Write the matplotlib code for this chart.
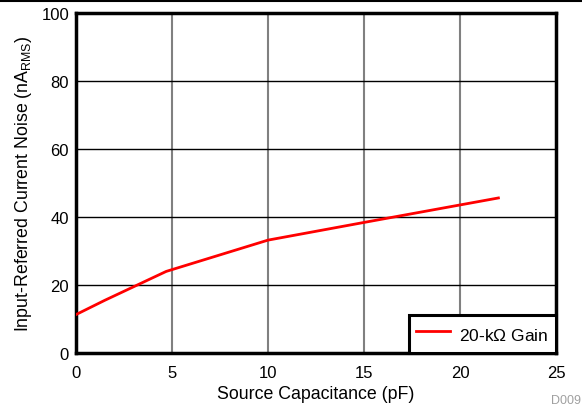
import matplotlib
matplotlib.use('Agg')
import matplotlib.pyplot as plt
from matplotlib.lines import Line2D

# source capacitance (pF) vs input-referred current noise (nA rms)
cap_pf = [0, 1.5, 4.7, 10, 15, 22]
noise_na = [11.3, 15.5, 24.0, 33.2, 38.4, 45.6]
series_label = '20-k$\\Omega$ Gain'

xticks = [0, 5, 10, 15, 20, 25]
yticks = [0, 20, 40, 60, 80, 100]

plt.rcParams['font.family'] = ['Liberation Sans', 'DejaVu Sans']
plt.rcParams['mathtext.fontset'] = 'custom'
plt.rcParams['mathtext.rm'] = 'Liberation Sans'
plt.rcParams['mathtext.it'] = 'Liberation Sans'

fig = plt.figure(figsize=(5.82, 4.10), dpi=100)
ax = fig.add_axes([76 / 582, 1 - 354 / 410, 480 / 582, 340 / 410])

ax.plot(cap_pf, noise_na, color='#ff0000', lw=2, label=series_label, zorder=3)

ax.set_xlim(0, 25)
ax.set_ylim(0, 100)
ax.set_xticks(xticks)
ax.set_yticks(yticks)
ax.tick_params(axis='x', length=0, labelsize=12, pad=9)
ax.tick_params(axis='y', length=0, labelsize=12, pad=5)

for x in xticks[1:-1]:
    ax.axvline(x, color='#808080', lw=1.5, zorder=1)
for y in yticks[1:-1]:
    ax.axhline(y, color='black', lw=1, zorder=1)

for s in ax.spines.values():
    s.set_linewidth(2.5)
    s.set_color('black')

ax.set_xlabel('Source Capacitance (pF)', fontsize=12.8, labelpad=3)
ax.set_ylabel('Input-Referred Current Noise (nA$_{\\mathregular{RMS}}$)', fontsize=12.8, labelpad=5)

leg = ax.legend(loc='lower right', borderaxespad=0, fancybox=False, fontsize=12.5,
                handlelength=1.95, handleheight=1.6, handletextpad=0.5,
                borderpad=0.45, framealpha=1)
leg.get_frame().set_edgecolor('black')
leg.get_frame().set_linewidth(2.2)

fig.add_artist(Line2D([0, 1], [1 - 1.5 / 410, 1 - 1.5 / 410], color='black', lw=1.5))
fig.text(581 / 582, 1 - 401 / 410, 'D009', fontsize=9, color='#a0a0a0', ha='right', va='center')

fig.savefig('out.png', dpi=100)
